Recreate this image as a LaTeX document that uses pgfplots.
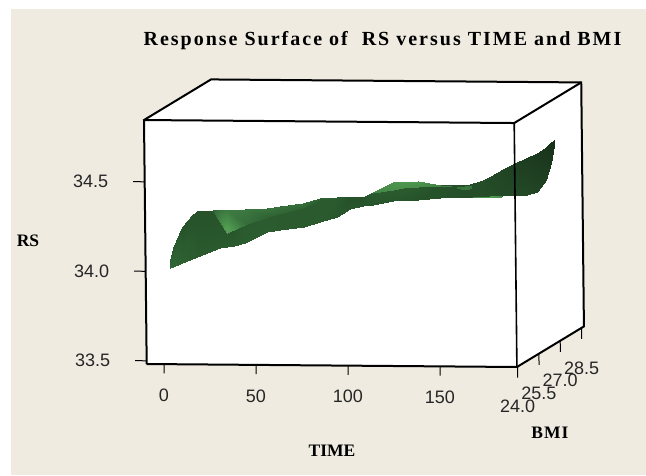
\documentclass[border=0pt]{standalone}
\usepackage{fontspec}
\setmainfont{Liberation Sans}
\newfontfamily\tms{Liberation Serif}
\newfontfamily\tmsw[LetterSpace=10]{Liberation Serif}
\newfontfamily\tmsb[LetterSpace=6]{Liberation Serif}
\usepackage{pgfplots}
\pgfplotsset{compat=1.18}
\definecolor{bgc}{HTML}{EFEBE1}
\begin{document}
\begin{tikzpicture}[x=1pt,y=1pt]
\useasboundingbox (0,0) rectangle (646,475);
\fill[white] (0,0) rectangle (646,475);
\fill[bgc] (11,0) rectangle (646,466);
\begin{axis}[
  at={(144pt,108pt)}, anchor=south west,
  x={(1.84pt,-0.0149pt)}, y={(14.2pt,8.6pt)}, z={(-1.98pt,179pt)},
  xmin=-9.4, xmax=191.8, ymin=23.95, ymax=28.67, zmin=33.482, zmax=34.845,
  clip=false,
  axis line style={draw=none},
  xtick={0,50,100,150}, ytick={24,25.5,27,28.5}, ztick={33.5,34,34.5},
  xticklabels={0,50,100,150}, yticklabels={24.0,25.5,27.0,28.5}, zticklabels={33.5,34.0,34.5},
  xminorticks=false, yminorticks=false, zminorticks=false,
  major tick length=0pt,
  /pgf/number format/assume math mode=true,
  tick label style={font=\fontsize{18}{20}\selectfont, text=black!85},
  xticklabel style={anchor=center, inner sep=0pt, yshift=-31pt},
  yticklabel style={anchor=center, inner sep=0pt, yshift=-40pt},
  zticklabel style={anchor=center, inner sep=0pt, xshift=-54pt},
  colormap={gr}{rgb255(0)=(24,48,26) rgb255(1)=(42,90,46) rgb255(2)=(60,120,65) rgb255(3)=(80,155,80) rgb255(4)=(120,150,120)},
  point meta min=0, point meta max=4,
]
% box faces
\addplot3[fill=white,draw=none] coordinates {(-9.4,23.95,33.482) (191.8,23.95,33.482) (191.8,23.95,34.845) (-9.4,23.95,34.845)};
\addplot3[fill=white,draw=none] coordinates {(-9.4,23.95,34.845) (191.8,23.95,34.845) (191.8,28.67,34.845) (-9.4,28.67,34.845)};
\addplot3[fill=white,draw=none] coordinates {(191.8,23.95,33.482) (191.8,28.67,33.482) (191.8,28.67,34.845) (191.8,23.95,34.845)};
% surface body
\addplot3[surf, shader=interp, mesh/rows=2, mesh/ordering=colwise, point meta=explicit]
 table[x=t,y=b,z=z,meta=m,row sep=\\] {
 t b z m\\
 3.6 24 34.015 1.4\\ 3.6 24 34.060 1.2\\
 5.3 24 34.021 1.4\\ 3.7 24.2 34.118 1.0\\
 10.2 24 34.044 1.2\\ 3.6 24.85 34.204 0.8\\
 15.6 24 34.067 1.1\\ 3.6 25.55 34.237 0.8\\
 18.3 24 34.078 1.0\\ 3.6 25.9 34.243 0.8\\
 30.8 24 34.129 1.0\\ 3.6 27.5 34.171 0.8\\
 38.4 24 34.144 1.0\\ 3.7 28.5 34.126 0.8\\
 44.4 24 34.158 1.1\\ 9.7 28.5 34.130 0.9\\
 56.4 24 34.221 1.1\\ 21.6 28.5 34.139 1.0\\
 63.4 24 34.233 1.0\\ 28.7 28.5 34.148 1.0\\
 76.4 24 34.251 1.0\\ 41.2 28.5 34.166 1.0\\
 85.2 24 34.279 1.0\\ 50.4 28.5 34.194 1.0\\
 94.4 24 34.308 0.9\\ 59.7 28.5 34.201 1.0\\
 101.5 24 34.353 0.9\\ 66.7 28.5 34.201 0.8\\
 108.5 24 34.371 0.9\\ 73.8 28.5 34.202 0.8\\
 114 24 34.377 0.9\\ 79.2 28.5 34.230 1.0\\
 124.8 24 34.400 0.9\\ 90.1 28.5 34.287 1.1\\
 138.4 24 34.406 0.8\\ 103.7 28.5 34.294 1.1\\
 150.4 24 34.419 0.8\\ 115.7 28.5 34.272 0.8\\
 165.1 24 34.425 0.7\\ 130.3 28.5 34.274 0.7\\
 173.8 24 34.426 0.7\\ 139 28.5 34.302 0.7\\
 178 24 34.429 0.7\\ 143.4 28.5 34.325 0.6\\
 178 24.85 34.391 0.6\\ 149.9 28.5 34.365 0.5\\
 178 25.69 34.357 0.6\\ 156.4 28.5 34.399 0.4\\
 178 26.54 34.316 0.6\\ 162.9 28.5 34.427 0.3\\
 178 27.24 34.299 0.5\\ 168.4 28.5 34.456 0.2\\
 178 27.94 34.332 0.4\\ 173.8 28.5 34.490 0.1\\
 178 28.3 34.410 0.2\\ 176.5 28.5 34.518 0.0\\
 178 28.5 34.501 0.0\\ 178.2 28.5 34.529 0.0\\
 };
% light strip on the left
\addplot3[surf, shader=interp, mesh/rows=2, mesh/ordering=colwise, point meta=explicit]
 table[x=t,y=b,z=z,meta=m,row sep=\\] {
 t b z m\\
 0 27.5 34.166 1.2\\ 0 27.5 34.171 1.4\\
 3.8 27.5 34.104 2.4\\ 3.8 27.5 34.171 1.9\\
 7.6 27.5 34.043 3.4\\ 7.6 27.5 34.172 2.1\\
 18.5 27.5 34.094 1.6\\ 18.5 27.5 34.178 2.0\\
 29.9 27.5 34.135 1.3\\ 29.9 27.5 34.188 1.9\\
 49 27.5 34.186 1.3\\ 49 27.5 34.214 1.7\\
 58.2 27.5 34.232 1.1\\ 58.2 27.5 34.243 1.3\\
 71.7 27.5 34.244 1.0\\ 71.7 27.5 34.250 1.1\\
 };
% light bump on the right
\addplot3[surf, shader=interp, mesh/rows=2, mesh/ordering=colwise, point meta=explicit]
 table[x=t,y=b,z=z,meta=m,row sep=\\] {
 t b z m\\
 87 27.5 34.273 2.2\\ 87 27.5 34.279 2.4\\
 97.8 27.5 34.291 2.6\\ 97.8 27.5 34.336 2.8\\
 103.3 27.5 34.303 2.7\\ 103.3 27.5 34.339 2.9\\
 111.4 27.5 34.309 2.6\\ 111.4 27.5 34.342 2.9\\
 123.4 27.5 34.315 2.2\\ 123.4 27.5 34.321 2.5\\
 129.9 27.5 34.313 2.0\\ 129.9 27.5 34.316 2.2\\
 };
\addplot3[surf, shader=interp, mesh/rows=2, mesh/ordering=colwise, point meta=explicit]
 table[x=t,y=b,z=z,meta=m,row sep=\\] {
 t b z m\\
 132.6 27.5 34.305 1.7\\ 132.6 27.5 34.311 1.8\\
 137 27.5 34.297 2.0\\ 137 27.5 34.317 2.0\\
 140.8 27.5 34.306 1.7\\ 140.8 27.5 34.317 1.8\\
 };
\addplot3[surf, shader=interp, mesh/rows=2, mesh/ordering=colwise, point meta=explicit]
 table[x=t,y=b,z=z,meta=m,row sep=\\] {
 t b z m\\
 141.3 27.5 34.253 2.4\\ 141.3 27.5 34.255 2.4\\
 150.5 27.5 34.254 3.0\\ 150.5 27.5 34.265 3.0\\
 157 27.5 34.260 2.6\\ 157 27.5 34.264 2.6\\
 };
% box edges
\addplot3[black,line width=2pt,no marks,line join=miter] coordinates {(-9.4,23.95,33.482) (191.8,23.95,33.482) (191.8,28.67,33.482) (191.8,28.67,34.845) (-9.4,28.67,34.845) (-9.4,23.95,34.845) (-9.4,23.95,33.482)};
\addplot3[black,line width=2pt,no marks] coordinates {(-9.4,23.95,34.845) (191.8,23.95,34.845) (191.8,28.67,34.845)};
\addplot3[black,line width=1.6pt,no marks] coordinates {(191.8,23.95,34.845) (191.8,23.95,33.482)};
% ticks
\foreach \t in {0,50,100,150} {\edef\tmp{\noexpand\addplot3[black,line width=1pt,no marks] coordinates {(\t,23.95,33.482) (\t,23.95,33.43)};}\tmp}
\foreach \b in {24,25.5,27,28.5} {\edef\tmp{\noexpand\addplot3[black,line width=1pt,no marks] coordinates {(191.8,\b,33.482) (191.8,\b,33.42)};}\tmp}
\foreach \z in {33.5,34,34.5} {\edef\tmp{\noexpand\addplot3[black,line width=1pt,no marks] coordinates {(-9.4,23.95,\z) (-15.7,23.95,\z)};}\tmp}
\end{axis}
\node[font=\tmsw\bfseries\fontsize{20}{22}\selectfont, text=black] at (382.5,434) {Response Surface of\ \ RS versus TIME and BMI};
\node[font=\tms\bfseries\fontsize{17.5}{19}\selectfont] at (28,234) {RS};
\node[font=\tms\bfseries\fontsize{17.5}{19}\selectfont] at (332,24) {TIME};
\node[font=\tmsb\bfseries\fontsize{17.5}{19}\selectfont] at (550,42) {BMI};
\end{tikzpicture}
\end{document}
